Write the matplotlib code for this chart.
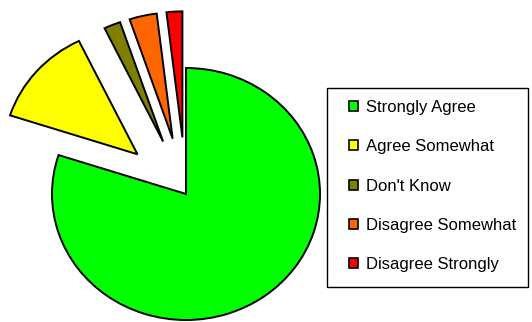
import matplotlib
matplotlib.use("Agg")
import matplotlib.pyplot as plt
from matplotlib.patches import Patch, Rectangle

labels = ["Strongly Agree", "Agree Somewhat", "Don't Know", "Disagree Somewhat", "Disagree Strongly"]
values = [80, 12.8, 2.0, 3.3, 1.9]
colors = ["#00ff00", "#ffff00", "#808000", "#ff6600", "#ff0000"]
explode = [0, 0.48, 0.45, 0.45, 0.45]

W, H = 532, 322
RX, RY = 134, 126  # pixel radii of the (slightly stretched) pie
fig = plt.figure(figsize=(W / 100, H / 100), dpi=100)
ax = fig.add_axes([0, 0, 1, 1])

ax.pie(values, colors=colors, explode=explode, startangle=90, counterclock=False,
       center=(186 / RX, (H - 194) / RY), radius=1.0, frame=True,
       wedgeprops=dict(edgecolor="black", linewidth=1.4))
ax.set_aspect("auto")
ax.set_xlim(0, W / RX)
ax.set_ylim(0, H / RY)
ax.axis("off")

# legend box
fig.add_artist(Rectangle((327 / W, 1 - 287 / H), (528 - 327) / W, (287 - 88) / H,
                         transform=fig.transFigure, facecolor="white",
                         edgecolor="black", linewidth=1.0, zorder=1))

handles = [Patch(facecolor=c, edgecolor="black", linewidth=1.2) for c in colors]
leg = fig.legend(handles, labels, loc="upper left",
                 bbox_to_anchor=(349 / W, 1 - 100 / H),
                 prop=dict(family="Liberation Sans", size=12),
                 handlelength=0.55, handleheight=0.55, handletextpad=0.45,
                 labelspacing=1.46, borderpad=0, borderaxespad=0,
                 frameon=False)
leg.set_zorder(2)

fig.savefig("out.png", dpi=100)
